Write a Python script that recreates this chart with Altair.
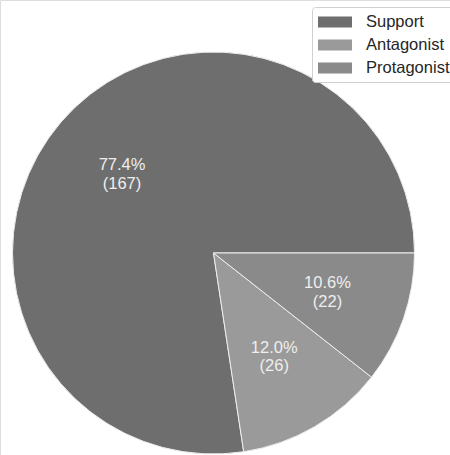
import math
import altair as alt
import pandas as pd

categories = ["Support", "Antagonist", "Protagonist"]
percents = [77.4, 12.0, 10.6]
counts = [167, 26, 22]
clock_order = [2, 1, 0]
colors = ["#6e6e6e", "#9a9a9a", "#8a8a8a"]

df = pd.DataFrame({
    "category": categories,
    "pct": percents,
    "count": counts,
    "ord": clock_order,
})
df["pct_label"] = [f"{p:.1f}%" for p in percents]
df["count_label"] = [f"({c})" for c in counts]

cx, cy, R = 213.5, 253, 201

theta_scale = alt.Scale(range=[math.pi / 2, math.pi / 2 + 2 * math.pi])
color_scale = alt.Scale(domain=categories, range=colors)

base = alt.Chart(df).encode(
    theta=alt.Theta("pct:Q", stack=True, scale=theta_scale),
    order=alt.Order("ord:Q", sort="ascending"),
    x=alt.value(cx),
    y=alt.value(cy),
)

pie = base.mark_arc(outerRadius=R, stroke="#eeeeee", strokeWidth=1).encode(
    color=alt.Color(
        "category:N",
        scale=color_scale,
        sort=categories,
        legend=alt.Legend(
            title=None,
            orient="none",
            legendX=312,
            legendY=7,
            padding=5,
            fillColor="white",
            strokeColor="#d0d0d0",
            cornerRadius=3,
            symbolType="M-0.9,-0.55H2.5V0.55H-0.9Z",
            symbolSize=400,
            symbolStrokeWidth=0,
            symbolOpacity=1,
            labelFont="Liberation Sans",
            labelFontSize=16.5,
            labelColor="#262626",
            labelOffset=29,
            rowPadding=4,
        ),
    )
)

text_style = dict(
    radius=R * 0.6,
    font="Liberation Sans",
    fontSize=16.5,
    color="#eeeeee",
    align="center",
    baseline="middle",
)

text_top = base.mark_text(dy=-9.25, **text_style).encode(text="pct_label:N")
text_bot = base.mark_text(dy=9.25, **text_style).encode(text="count_label:N")

chart = (
    (pie + text_top + text_bot)
    .properties(width=450, height=455, padding=0, autosize=alt.AutoSizeParams(type="none"))
    .configure_view(stroke=None)
    .configure(background="white")
)

chart.save("out.html", embed_options={"renderer": "svg", "actions": False})
